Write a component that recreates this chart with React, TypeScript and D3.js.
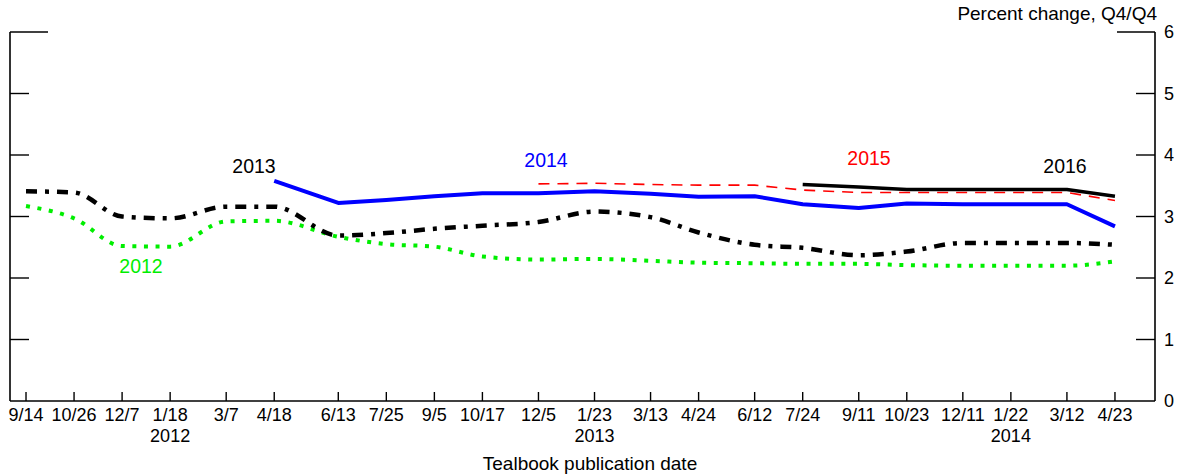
import React from "react";
import * as d3 from "d3";

const dates: string[] = [
  "2011-09-14", "2011-10-26", "2011-12-07", "2012-01-18", "2012-03-07", "2012-04-18",
  "2012-06-13", "2012-07-25", "2012-09-05", "2012-10-17", "2012-12-05", "2013-01-23",
  "2013-03-13", "2013-04-24", "2013-06-12", "2013-07-24", "2013-09-11", "2013-10-23",
  "2013-12-11", "2014-01-22", "2014-03-12", "2014-04-23",
];
const tickLabels: string[] = [
  "9/14", "10/26", "12/7", "1/18", "3/7", "4/18", "6/13", "7/25", "9/5", "10/17", "12/5",
  "1/23", "3/13", "4/24", "6/12", "7/24", "9/11", "10/23", "12/11", "1/22", "3/12", "4/23",
];
const yearLabels: { date: string; label: string }[] = [
  { date: "2012-01-18", label: "2012" },
  { date: "2013-01-23", label: "2013" },
  { date: "2014-01-22", label: "2014" },
];

const s2012: (number | null)[] = [3.17, 2.97, 2.52, 2.51, 2.92, 2.93, 2.67, 2.55, 2.51, 2.35, 2.30, 2.31, 2.28, 2.25, 2.24, 2.23, 2.23, 2.21, 2.20, 2.20, 2.20, 2.27];
const s2013: (number | null)[] = [3.41, 3.39, 3.00, 2.97, 3.16, 3.16, 2.69, 2.73, 2.80, 2.85, 2.91, 3.08, 2.99, 2.74, 2.54, 2.49, 2.37, 2.43, 2.57, 2.57, 2.57, 2.54];
const s2014: (number | null)[] = [null, null, null, null, null, 3.58, 3.22, 3.27, 3.33, 3.38, 3.38, 3.41, 3.37, 3.32, 3.33, 3.20, 3.14, 3.21, 3.20, 3.20, 3.20, 2.84];
const s2015: (number | null)[] = [null, null, null, null, null, null, null, null, null, null, 3.53, 3.54, 3.52, 3.51, 3.51, 3.43, 3.39, 3.39, 3.39, 3.39, 3.39, 3.26];
const s2016: (number | null)[] = [null, null, null, null, null, null, null, null, null, null, null, null, null, null, null, 3.52, 3.48, 3.44, 3.44, 3.44, 3.44, 3.33];
const yTicks: number[] = [0, 1, 2, 3, 4, 5, 6];

const parse = (s: string) => {
  const [y, m, d] = s.split("-").map(Number);
  return new Date(Date.UTC(y, m - 1, d));
};

const W = 1182;
const H = 475;
const FONT = "Arial, 'Liberation Sans', sans-serif";

export default function App() {
  const x = d3.scaleUtc().domain([parse("2011-08-31"), parse("2014-05-28")]).range([10, 1155]);
  const y = d3.scaleLinear().domain([0, 6]).range([401, 32]);
  const pts = dates.map(parse);

  const mk = (vals: (number | null)[], curve: d3.CurveFactory) => {
    const data = vals.map((v, i) => ({ d: pts[i], v })).filter((p) => p.v !== null) as { d: Date; v: number }[];
    return d3.line<{ d: Date; v: number }>().x((p) => x(p.d)).y((p) => y(p.v)).curve(curve)(data) || "";
  };

  const series = [
    { vals: s2012, color: "#00ee00", width: 4, dash: "4 7.6", curve: d3.curveMonotoneX },
    { vals: s2013, color: "#000000", width: 4.5, dash: "11 8 4 8", curve: d3.curveMonotoneX },
    { vals: s2014, color: "#0000ff", width: 4, dash: "", curve: d3.curveLinear },
    { vals: s2015, color: "#ff0000", width: 1.6, dash: "11 8", curve: d3.curveLinear },
    { vals: s2016, color: "#000000", width: 3.5, dash: "", curve: d3.curveLinear },
  ];

  const labels = [
    { text: "2012", color: "#00ee00", x: 141, y: 273 },
    { text: "2013", color: "#000000", x: 254, y: 173 },
    { text: "2014", color: "#0000ff", x: 546, y: 167 },
    { text: "2015", color: "#ff0000", x: 869, y: 165 },
    { text: "2016", color: "#000000", x: 1065, y: 173 },
  ];

  return (
    <svg width={W} height={H} style={{ position: "absolute", left: 0, top: 0, background: "#fff" }} fontFamily={FONT}>
      <line x1={10} x2={10} y1={y(6)} y2={y(0)} stroke="#000" strokeWidth={1.6} />
      <line x1={1155} x2={1155} y1={y(6)} y2={y(0)} stroke="#000" strokeWidth={1.6} />
      <line x1={10} x2={1155} y1={y(0)} y2={y(0)} stroke="#000" strokeWidth={1.6} />
      {yTicks.filter((t) => t > 0).map((t) => (
        <g key={t}>
          <line x1={10} x2={t === 6 ? 48 : 29} y1={y(t)} y2={y(t)} stroke="#000" strokeWidth={1.4} />
          <line x1={t === 6 ? 1117 : 1136} x2={1155} y1={y(t)} y2={y(t)} stroke="#000" strokeWidth={1.4} />
        </g>
      ))}
      {yTicks.map((t) => (
        <text key={t} x={1164} y={y(t)} dy="0.36em" fontSize={18} fill="#000">{t}</text>
      ))}
      {pts.map((d, i) => (
        <g key={i}>
          <line x1={x(d)} x2={x(d)} y1={y(0)} y2={y(0) - 9} stroke="#000" strokeWidth={1.4} />
          <text x={x(d)} y={421} textAnchor="middle" fontSize={18} fill="#000">{tickLabels[i]}</text>
        </g>
      ))}
      {yearLabels.map((yl) => (
        <text key={yl.label} x={x(parse(yl.date))} y={442} textAnchor="middle" fontSize={18} fill="#000">{yl.label}</text>
      ))}
      <text x={590} y={470} textAnchor="middle" fontSize={19} fill="#000">Tealbook publication date</text>
      <text x={1157} y={20} textAnchor="end" fontSize={19} fill="#000">Percent change, Q4/Q4</text>

      {series.map((s, i) => (
        <path key={i} d={mk(s.vals, s.curve)} fill="none" stroke={s.color} strokeWidth={s.width}
          strokeDasharray={s.dash || undefined} strokeLinecap="butt" strokeLinejoin="round" />
      ))}
      {labels.map((l) => (
        <text key={l.text} x={l.x} y={l.y} textAnchor="middle" fontSize={19.5} fill={l.color}>{l.text}</text>
      ))}
    </svg>
  );
}
